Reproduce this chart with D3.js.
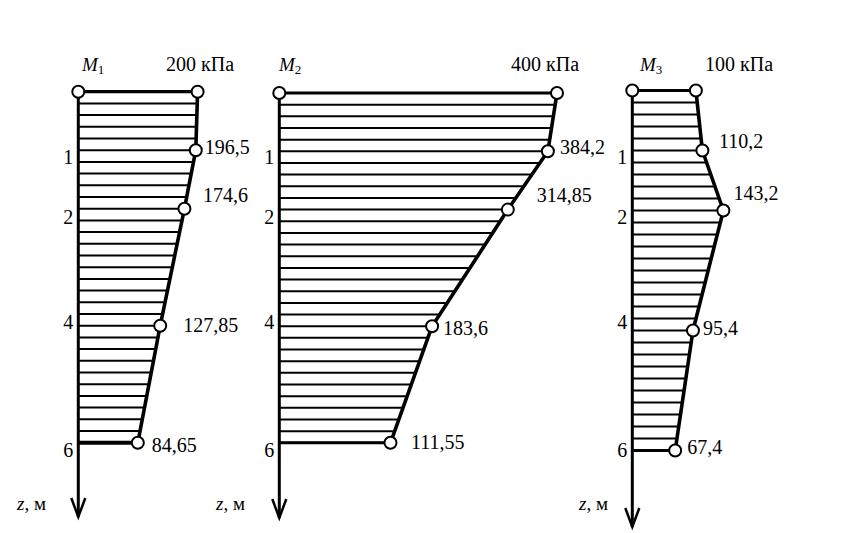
<!DOCTYPE html>
<html><head><meta charset="utf-8">
<script src="https://cdn.jsdelivr.net/npm/d3@7"></script>
<style>
html,body{margin:0;padding:0;background:#fff;}
svg{display:block;}
text{font-family:"Liberation Serif","Times New Roman",serif;fill:#000;}
</style></head>
<body>
<script>
// ---- data ----
const depths = [0, 1, 2, 4, 6];
const m1Values = [200, 196.5, 174.6, 127.85, 84.65];
const m2Values = [400, 384.2, 314.85, 183.6, 111.55];
const m3Values = [100, 110.2, 143.2, 95.4, 67.4];
const panelLetters = ["M", "M", "M"];
const panelSubs = ["1", "2", "3"];
const topLabels = ["200 кПа", "400 кПа", "100 кПа"];
const tickDepths = [1, 2, 4, 6];
const tickLabels = ["1", "2", "4", "6"];
const axisTitle = ["z", ", м"];
const hatchStep = 0.2;

// ---- layout (positions / sizes only) ----
const W = 868, H = 533;
const layout = [
  {axisX: 78.3, y0: 91.7, yPerM: 58.5, xr0: 15.65, xr1: 119.3, dom: 200, arrowEnd: 517, bottomW: 4,
   headM: 82, headT: 166, zx: 17, tickDy: [6.5, 8, -4, 7.3],
   lab: [null, [9, -3], [18.6, -13.7], [23, -0.7], [14, 2]]},
  {axisX: 279.3, y0: 93, yPerM: 58.3, xr0: 46.8, xr1: 277.7, dom: 400, arrowEnd: 518, bottomW: 3,
   headM: 279, headT: 511, zx: 216, tickDy: [5.7, 7.1, -4.5, 7.2],
   lab: [null, [12, -4], [29, -14.6], [11, 2], [20.5, -1]]},
  {axisX: 632.3, y0: 90.5, yPerM: 60, xr0: 0, xr1: 63.6, dom: 100, arrowEnd: 527, bottomW: 3,
   headM: 640, headT: 705, zx: 579, tickDy: [6.2, 6.2, -8.8, -0.5],
   lab: [null, [16.6, -10], [10, -17.5], [10, -2.5], [12, -3.5]]}
];
const allValues = [m1Values, m2Values, m3Values];

const svg = d3.select("body").append("svg").attr("width", W).attr("height", H);
svg.append("rect").attr("width", W).attr("height", H).attr("fill", "#fff");

const fmt = v => String(v).replace(".", ",");

allValues.forEach((vals, i) => {
  const L = layout[i];
  const g = svg.append("g");
  const y = d3.scaleLinear().domain([0, 6]).range([L.y0, L.y0 + 6 * L.yPerM]);
  const x = d3.scaleLinear().domain([0, L.dom]).range([L.axisX + L.xr0, L.axisX + L.xr1]);
  const pts = vals.map((v, k) => [x(v), y(depths[k])]);

  const xAt = z => {
    for (let k = 0; k < depths.length - 1; k++) {
      if (z >= depths[k] - 1e-9 && z <= depths[k + 1] + 1e-9) {
        const t = (z - depths[k]) / (depths[k + 1] - depths[k]);
        return pts[k][0] + t * (pts[k + 1][0] - pts[k][0]);
      }
    }
    return pts[pts.length - 1][0];
  };

  // hatching
  const hz = d3.range(0, 6 + 1e-9, hatchStep);
  g.selectAll("line.h").data(hz).join("line")
    .attr("x1", L.axisX).attr("x2", z => xAt(z) - 1)
    .attr("y1", z => y(z)).attr("y2", z => y(z))
    .attr("stroke", "#000").attr("stroke-width", 2);

  // top line
  g.append("line").attr("x1", L.axisX).attr("x2", pts[0][0])
    .attr("y1", y(0)).attr("y2", pts[0][1])
    .attr("stroke", "#000").attr("stroke-width", 3.2);
  // bottom line
  const last = pts[pts.length - 1];
  g.append("line").attr("x1", L.axisX).attr("x2", last[0])
    .attr("y1", y(6)).attr("y2", last[1])
    .attr("stroke", "#000").attr("stroke-width", L.bottomW);

  // axis
  g.append("line").attr("x1", L.axisX).attr("x2", L.axisX)
    .attr("y1", y(0)).attr("y2", L.arrowEnd)
    .attr("stroke", "#000").attr("stroke-width", 3);
  g.append("path")
    .attr("d", d3.line()([[L.axisX - 7, L.arrowEnd - 19], [L.axisX, L.arrowEnd], [L.axisX + 7, L.arrowEnd - 19]]))
    .attr("fill", "none").attr("stroke", "#000").attr("stroke-width", 2.5);

  // boundary polyline
  g.append("path").attr("d", d3.line()(pts))
    .attr("fill", "none").attr("stroke", "#000").attr("stroke-width", 3.6)
    .attr("stroke-linejoin", "round");

  // circles
  g.append("circle").attr("cx", L.axisX).attr("cy", y(0)).attr("r", 6)
    .attr("fill", "#fff").attr("stroke", "#000").attr("stroke-width", 2);
  g.selectAll("circle.p").data(pts).join("circle")
    .attr("cx", d => d[0]).attr("cy", d => d[1]).attr("r", 6)
    .attr("fill", "#fff").attr("stroke", "#000").attr("stroke-width", 2);

  // value labels
  vals.forEach((v, k) => {
    if (k === 0) return;
    g.append("text").attr("x", pts[k][0] + L.lab[k][0]).attr("y", pts[k][1] + L.lab[k][1])
      .attr("dominant-baseline", "central").attr("font-size", 20).text(fmt(v));
  });

  // tick labels
  tickDepths.forEach((z, k) => {
    g.append("text").attr("x", L.axisX - 5).attr("y", y(z) + L.tickDy[k])
      .attr("text-anchor", "end").attr("dominant-baseline", "central")
      .attr("font-size", 20).text(tickLabels[k]);
  });

  // header
  const ht = g.append("text").attr("x", L.headM).attr("y", 71).attr("font-size", 19);
  ht.append("tspan").attr("font-style", "italic").text(panelLetters[i]);
  ht.append("tspan").attr("font-size", 13).attr("dy", 3).text(panelSubs[i]);
  g.append("text").attr("x", L.headT).attr("y", 70.5).attr("font-size", 20).text(topLabels[i]);

  // axis title
  const at = g.append("text").attr("x", L.zx).attr("y", 510).attr("font-size", 19);
  at.append("tspan").attr("font-style", "italic").text(axisTitle[0]);
  at.append("tspan").text(axisTitle[1]);
});
</script>
</body></html>
